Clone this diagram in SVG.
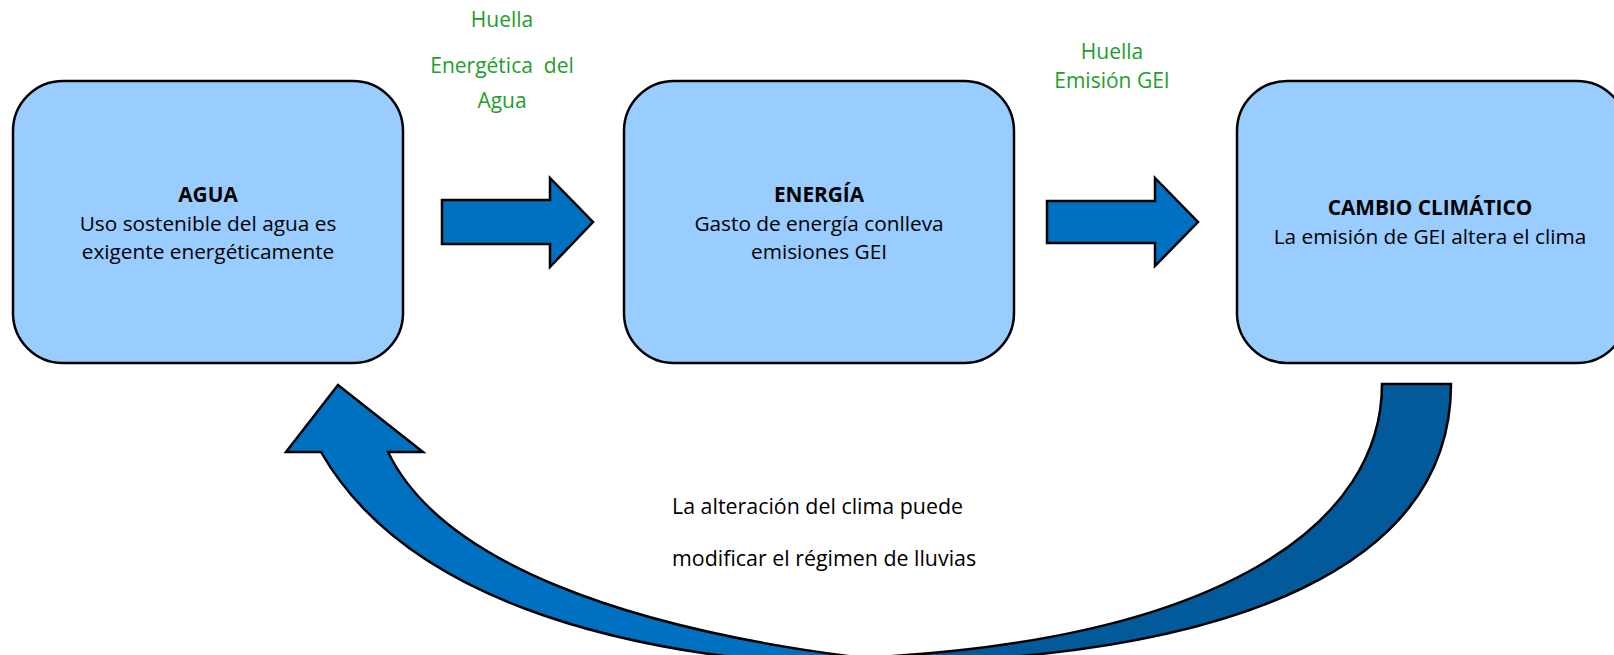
<svg xmlns="http://www.w3.org/2000/svg" width="1614" height="655" viewBox="0 0 1614 655">
<style>
.box{fill:#99CCFF;stroke:#000;stroke-width:2.5}
.t{font-family:"Open Sans",Lato,"Liberation Sans",sans-serif;font-size:20.8px;fill:#000;text-anchor:middle}
.b{font-weight:bold}
.g{font-family:"Open Sans",Lato,"Liberation Sans",sans-serif;font-size:21px;fill:#1E9E2A;text-anchor:middle;white-space:pre}
.arr{fill:#0070C0;stroke:#000;stroke-width:2.5;stroke-linejoin:miter}
.dark{fill:#025A9B;stroke:#000;stroke-width:2.5}
.note{font-family:"Open Sans",Lato,"Liberation Sans",sans-serif;font-size:21.4px;fill:#000}
</style>
<rect width="1614" height="655" fill="#fff"/>
<g id="node-agua">
<rect class="box" x="13" y="81" width="390" height="282" rx="50" ry="50"/>
<text class="t b" x="208" y="202">AGUA</text>
<text class="t" x="208" y="230.5">Uso sostenible del agua es</text>
<text class="t" x="208" y="259">exigente energéticamente</text>
</g>
<g id="node-energia">
<rect class="box" x="624" y="81" width="390" height="282" rx="50" ry="50"/>
<text class="t b" x="819" y="202">ENERGÍA</text>
<text class="t" x="819" y="230.5">Gasto de energía conlleva</text>
<text class="t" x="819" y="259">emisiones GEI</text>
</g>
<g id="node-cambio">
<rect class="box" x="1237" y="81" width="390" height="282" rx="50" ry="50"/>
<text class="t b" x="1430" y="215">CAMBIO CLIMÁTICO</text>
<text class="t" x="1430" y="244">La emisión de GEI altera el clima</text>
</g>
<g id="connectors">
<path class="arr" d="M442,200 L550,200 L550,178 L593,222 L550,267 L550,244 L442,244 Z"/>
<path class="arr" d="M1047,201 L1155,201 L1155,178 L1198,222 L1155,266 L1155,243 L1047,243 Z"/>
<path class="dark" d="M1382,384 L1451,384 C1451,560 1250,660 860,664 L860,658 C1230,640 1382,520 1382,384 Z"/>
<path class="arr" d="M321,452 L286,452 L338,385 L423,452 L388,452 C440,560 620,630 880,660 L880,668 C600,660 400,590 321,452 Z"/>
</g>
<g id="labels">
<text class="g" x="502" y="27">Huella</text>
<text class="g" x="502" y="73">Energética  del</text>
<text class="g" x="502" y="108">Agua</text>
<text class="g" x="1112" y="59">Huella</text>
<text class="g" x="1112" y="88">Emisión GEI</text>
<text class="note" x="672" y="514">La alteración del clima puede</text>
<text class="note" x="672" y="566">modificar el régimen de lluvias</text>
</g>
</svg>
